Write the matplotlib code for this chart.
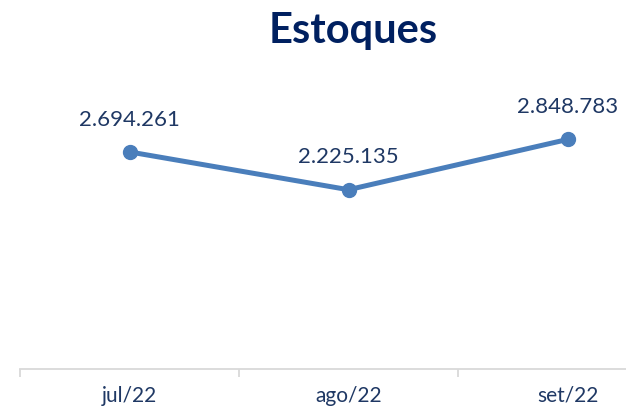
import matplotlib
matplotlib.use("Agg")
import matplotlib.pyplot as plt

# data
meses = ["jul/22", "ago/22", "set/22"]
estoques = [2694261, 2225135, 2848783]

LINE = "#4A7EBB"
NAVY = "#002060"
TXT = "#1F3864"

def fmt(v):
    return f"{v:,}".replace(",", ".")

fig = plt.figure(figsize=(6.26, 4.11), dpi=100)
# plot area runs past the right edge of the picture (cropped chart)
ax = fig.add_axes([20 / 626, 42 / 411, 657 / 626, 282 / 411])

x = range(len(meses))
ax.plot(x, estoques, color=LINE, lw=3.6, marker="o", ms=10, solid_capstyle="round", zorder=3)
for i, v in zip(x, estoques):
    ax.annotate(fmt(v), (i, v), xytext=(0, 16), textcoords="offset points",
                ha="center", va="bottom", fontsize=16, color=TXT, family="Lato")

ax.set_xlim(-0.5, len(meses) - 0.5)
ax.set_ylim(0, 3500000)
ax.set_yticks([])
for s in ("top", "right", "left"):
    ax.spines[s].set_visible(False)
ax.spines["bottom"].set_color("#D9D9D9")
ax.spines["bottom"].set_linewidth(1.3)

# category labels centred, ticks between categories
ax.set_xticks(list(x))
ax.set_xticklabels(meses, fontsize=15, color=TXT, family="Lato")
ax.tick_params(axis="x", which="major", length=0, pad=12)
ax.set_xticks([i - 0.5 for i in range(len(meses) + 1)], minor=True)
ax.tick_params(axis="x", which="minor", length=6, width=1.3, color="#D9D9D9")

fig.text(353 / 626, 1 - 31 / 411, "Estoques", ha="center", va="center",
         fontsize=30, fontweight="bold", color=NAVY, family="Lato")

fig.savefig("out.png", dpi=100, facecolor="white")
